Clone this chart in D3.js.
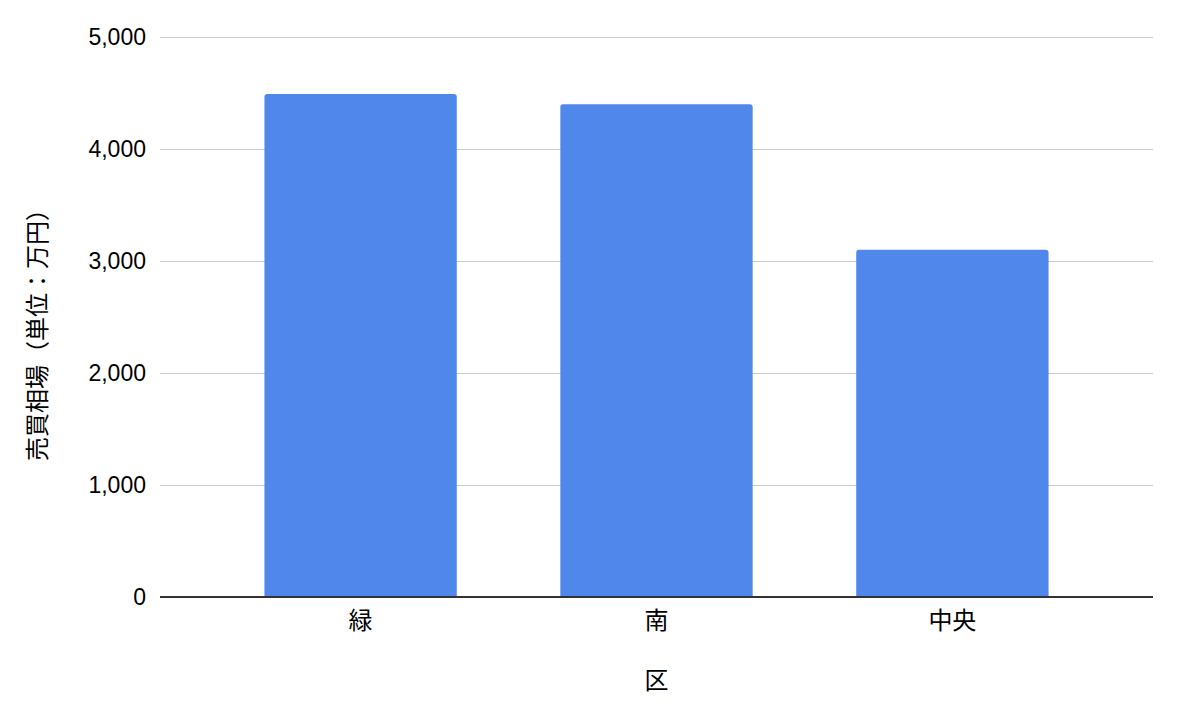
<!DOCTYPE html>
<html lang="ja">
<head>
    <meta charset="UTF-8">
    <title>売買相場</title>
    <script src="https://d3js.org/d3.v7.min.js"></script>
    <style>
        body {
            margin: 0;
            padding: 0;
            background: #fff;
            font-family: "Liberation Sans", Arial, "Noto Sans CJK JP", sans-serif;
        }
        svg { display: block; }
        .tick-label {
            font-size: 23px;
            fill: #000;
        }
        .cjk {
            font-family: "Noto Sans CJK JP", sans-serif;
            font-size: 24px;
            fill: #000;
        }
    </style>
</head>
<body>
    <div id="chart"><svg width="1182" height="716"></svg></div>
    <script>
        // 区ごとの売買相場（万円）
        const districts = ["緑", "南", "中央"];
        const prices = [4490, 4400, 3100];
        const yTicks = [0, 1000, 2000, 3000, 4000, 5000];

        const data = districts.map((d, i) => ({ name: d, value: prices[i] }));

        const margin = { top: 37, right: 29, bottom: 119, left: 160 };
        const W = 1182, H = 716;
        const width = W - margin.left - margin.right;
        const height = H - margin.top - margin.bottom;

        const svg = d3.select("#chart svg");
        const g = svg.append("g")
            .attr("transform", `translate(${margin.left},${margin.top})`);

        const x = d3.scaleBand()
            .domain(districts)
            .range([0, width])
            .paddingInner(0.35)
            .paddingOuter(0.353);

        const y = d3.scaleLinear()
            .domain([0, 5000])
            .range([height, 0]);

        // gridlines
        g.selectAll(".grid")
            .data(yTicks.filter(t => t > 0))
            .enter()
            .append("line")
            .attr("x1", 0)
            .attr("x2", width)
            .attr("y1", d => Math.round(y(d)) + 0.5)
            .attr("y2", d => Math.round(y(d)) + 0.5)
            .attr("stroke", "#cccccc")
            .attr("stroke-width", 1);

        // y tick labels
        g.selectAll(".ylab")
            .data(yTicks)
            .enter()
            .append("text")
            .attr("class", "tick-label")
            .attr("x", -14)
            .attr("y", d => y(d))
            .attr("dy", "0.35em")
            .attr("text-anchor", "end")
            .text(d => d3.format(",")(d));

        // bars with rounded top corners
        const r = 3;
        g.selectAll(".bar")
            .data(data)
            .enter()
            .append("path")
            .attr("class", "bar")
            .attr("fill", "#4f87eb")
            .attr("d", d => {
                const x0 = x(d.name), x1 = x0 + x.bandwidth();
                const y0 = y(d.value), yb = y(0);
                return `M${x0},${yb}V${y0 + r}Q${x0},${y0} ${x0 + r},${y0}` +
                       `H${x1 - r}Q${x1},${y0} ${x1},${y0 + r}V${yb}Z`;
            });

        // baseline
        g.append("line")
            .attr("x1", 0)
            .attr("x2", width)
            .attr("y1", y(0))
            .attr("y2", y(0))
            .attr("stroke", "#333333")
            .attr("stroke-width", 2);

        // x tick labels
        g.selectAll(".xlab")
            .data(districts)
            .enter()
            .append("text")
            .attr("class", "cjk")
            .attr("x", d => x(d) + x.bandwidth() / 2)
            .attr("y", height + 23)
            .attr("dy", "0.36em")
            .attr("text-anchor", "middle")
            .text(d => d);

        // axis titles
        g.append("text")
            .attr("class", "cjk")
            .attr("x", width / 2)
            .attr("y", height + 83)
            .attr("dy", "0.36em")
            .attr("text-anchor", "middle")
            .text("区");

        svg.append("text")
            .attr("class", "cjk")
            .attr("transform", `translate(37,${margin.top + height / 2 + 12}) rotate(-90)`)
            .attr("dy", "0.36em")
            .attr("text-anchor", "middle")
            .text("売買相場（単位：万円）");
    </script>
</body>
</html>
